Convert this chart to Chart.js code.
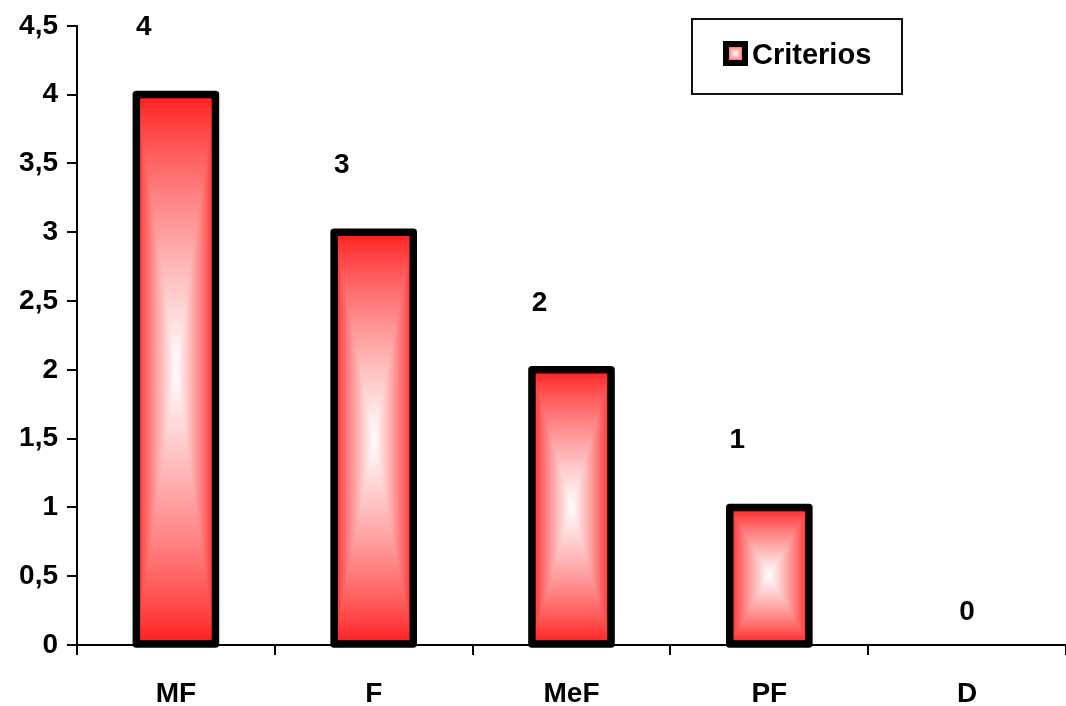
<!DOCTYPE html>
<html><head><meta charset="utf-8">
<script src="https://cdn.jsdelivr.net/npm/chart.js@4/dist/chart.umd.min.js"></script>
<style>html,body{margin:0;padding:0;background:#fff;} #wrap{width:1066px;height:706px;position:relative;}</style>
</head><body><div id="wrap"><canvas id="c" width="1066" height="706"></canvas></div>
<script>
const categories = ['MF', 'F', 'MeF', 'PF', 'D'];
const values = [4, 3, 2, 1, 0];
const seriesName = 'Criterios';
const yMin = 0, yMax = 4.5, yStep = 0.5;

const FONT = '"Liberation Sans", Arial, Helvetica, sans-serif';
const EDGE = [255, 26, 26];
const CENTER = [255, 255, 255];

function rectGradientCanvas(w, h, edge) {
  edge = edge || EDGE;
  w = Math.max(1, Math.round(w)); h = Math.max(1, Math.round(h));
  const off = document.createElement('canvas');
  off.width = w; off.height = h;
  const octx = off.getContext('2d');
  const img = octx.createImageData(w, h);
  const hw = w / 2, hh = h / 2;
  for (let j = 0; j < h; j++) {
    for (let i = 0; i < w; i++) {
      const t = Math.max(Math.abs(i + 0.5 - hw) / hw, Math.abs(j + 0.5 - hh) / hh);
      const s = Math.pow(1 - Math.min(1, t), 0.8);
      const k = (j * w + i) * 4;
      img.data[k] = edge[0] + (CENTER[0] - edge[0]) * s;
      img.data[k + 1] = edge[1] + (CENTER[1] - edge[1]) * s;
      img.data[k + 2] = edge[2] + (CENTER[2] - edge[2]) * s;
      img.data[k + 3] = 255;
    }
  }
  octx.putImageData(img, 0, 0);
  return off;
}

const barPainter = {
  id: 'barPainter',
  afterDatasetsDraw(chart) {
    const ctx = chart.ctx;
    const meta = chart.getDatasetMeta(0);
    meta.data.forEach((el, i) => {
      const p = el.getProps(['x', 'y', 'base', 'width'], true);
      const x0 = p.x - p.width / 2, x1 = p.x + p.width / 2;
      const y0 = Math.min(p.y, p.base), y1 = Math.max(p.y, p.base);
      if (y1 - y0 < 1) return;
      ctx.save();
      ctx.drawImage(rectGradientCanvas(x1 - x0, y1 - y0), x0, y0, x1 - x0, y1 - y0);
      ctx.lineWidth = 7.5;
      ctx.lineJoin = 'round';
      ctx.strokeStyle = '#000';
      ctx.strokeRect(x0, y0, x1 - x0, y1 - y0);
      ctx.restore();
    });
    // data labels
    ctx.save();
    ctx.font = 'bold 28px ' + FONT;
    ctx.fillStyle = '#000';
    ctx.textAlign = 'center';
    ctx.textBaseline = 'middle';
    meta.data.forEach((el, i) => {
      const p = el.getProps(['x', 'y', 'base'], true);
      const v = values[i];
      if (v > 0) ctx.fillText(String(v), p.x - 32, p.y - 67);
      else ctx.fillText(String(v), p.x, p.base - 33);
    });
    ctx.restore();
  },
  afterDraw(chart) {
    const ctx = chart.ctx;
    ctx.save();
    // legend box
    ctx.fillStyle = '#fff';
    ctx.fillRect(692, 19, 210, 75);
    ctx.lineWidth = 2;
    ctx.strokeStyle = '#111';
    ctx.strokeRect(692, 19, 210, 75);
    // swatch
    ctx.fillStyle = '#000';
    ctx.fillRect(723, 41, 25, 25);
    ctx.drawImage(rectGradientCanvas(13, 13, [255, 110, 110]), 729, 47, 13, 13);
    ctx.font = 'bold 29px ' + FONT;
    ctx.fillStyle = '#000';
    ctx.textAlign = 'left';
    ctx.textBaseline = 'middle';
    ctx.fillText(chart.data.datasets[0].label, 752, 56);
    ctx.restore();
  }
};

new Chart(document.getElementById('c'), {
  type: 'bar',
  data: {
    labels: categories,
    datasets: [{
      label: seriesName,
      data: values,
      backgroundColor: 'rgba(0,0,0,0)',
      borderWidth: 0,
      categoryPercentage: 1,
      barPercentage: 0.4
    }]
  },
  options: {
    responsive: false,
    animation: false,
    devicePixelRatio: 1,
    layout: { padding: { top: 25, right: 0, bottom: 0, left: 0 } },
    plugins: { legend: { display: false }, tooltip: { enabled: false } },
    scales: {
      x: {
        offset: true,
        grid: { display: true, drawOnChartArea: false, drawTicks: true, tickLength: 10, color: '#000', lineWidth: 2, offset: true },
        border: { display: true, color: '#000', width: 2 },
        ticks: { color: '#000', font: { family: FONT, size: 28, weight: 'bold' }, padding: 22, maxRotation: 0 },
        afterFit(s) { s.height = 61; }
      },
      y: {
        min: yMin, max: yMax,
        grid: { display: true, drawOnChartArea: false, drawTicks: true, tickLength: 10, color: '#000', lineWidth: 2 },
        border: { display: true, color: '#000', width: 2 },
        ticks: {
          stepSize: yStep, color: '#000', padding: 9,
          font: { family: FONT, size: 28, weight: 'bold' },
          callback: v => String(v).replace('.', ',')
        },
        afterFit(s) { s.width = 77; }
      }
    }
  },
  plugins: [barPainter]
});
</script>
</body></html>
